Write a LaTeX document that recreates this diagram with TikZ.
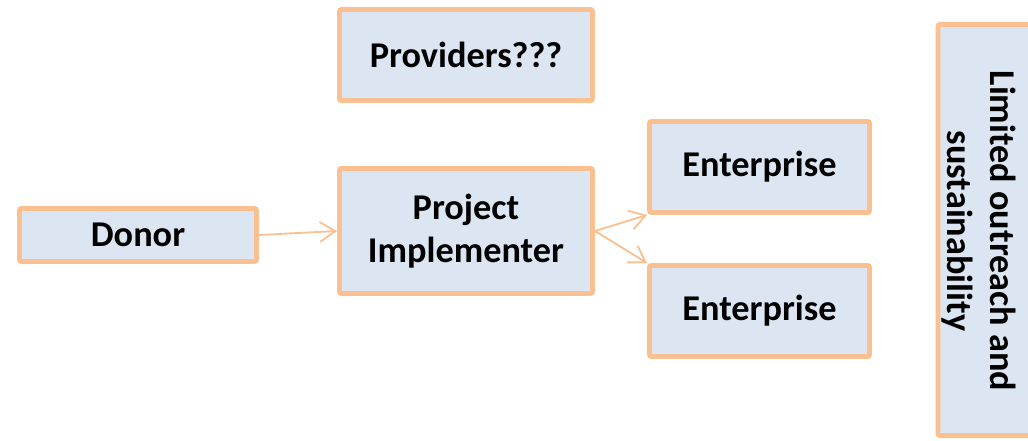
\documentclass[tikz,border=0pt]{standalone}
\usepackage{fontspec}
\setmainfont{Carlito}
\usetikzlibrary{arrows.meta}

\definecolor{boxline}{HTML}{FAC090}
\definecolor{boxfill}{HTML}{DCE6F2}

\tikzset{
  box/.style={draw=boxline, line width=3.5pt, fill=boxfill, rounded corners=1.5pt, inner sep=0pt, font=\bfseries\fontsize{25.8}{30.6}\selectfont, align=center},
  link/.style={draw=boxline, line width=1.3pt, -{Straight Barb[length=11pt,width=14pt]}}
}

\begin{document}
\begin{tikzpicture}[x=0.025cm, y=-0.025cm]

\useasboundingbox (0,0) rectangle (1028,441);
\clip (0,0) rectangle (1028,441);

\node[box, minimum width=5.925cm, minimum height=1.325cm] (donor) at (138,235) {Donor};
\node[box, minimum width=6.325cm, minimum height=2.275cm] (providers) at (466,55) {Providers???};
\node[box, minimum width=6.325cm, minimum height=3.125cm] (implementer) at (466,231) {Project\\Implementer};
\node[box, minimum width=5.5cm, minimum height=2.275cm] (enterpriseA) at (759.5,167) {Enterprise};
\node[box, minimum width=5.5cm, minimum height=2.275cm] (enterpriseB) at (759.5,311) {Enterprise};
\node[box, minimum width=3.6cm, minimum height=10.275cm] (limits) at (1010,230) {};
\node[rotate=-90, font=\bfseries\fontsize{25.8}{30.6}\selectfont, align=center] (limitstext) at (979,231) {Limited outreach and\\sustainability};

\draw[link] (donor.east) -- (implementer.west);
\draw[link] (implementer.east) -- (enterpriseA.south west);
\draw[link] (implementer.east) -- (enterpriseB.north west);

\end{tikzpicture}
\end{document}
